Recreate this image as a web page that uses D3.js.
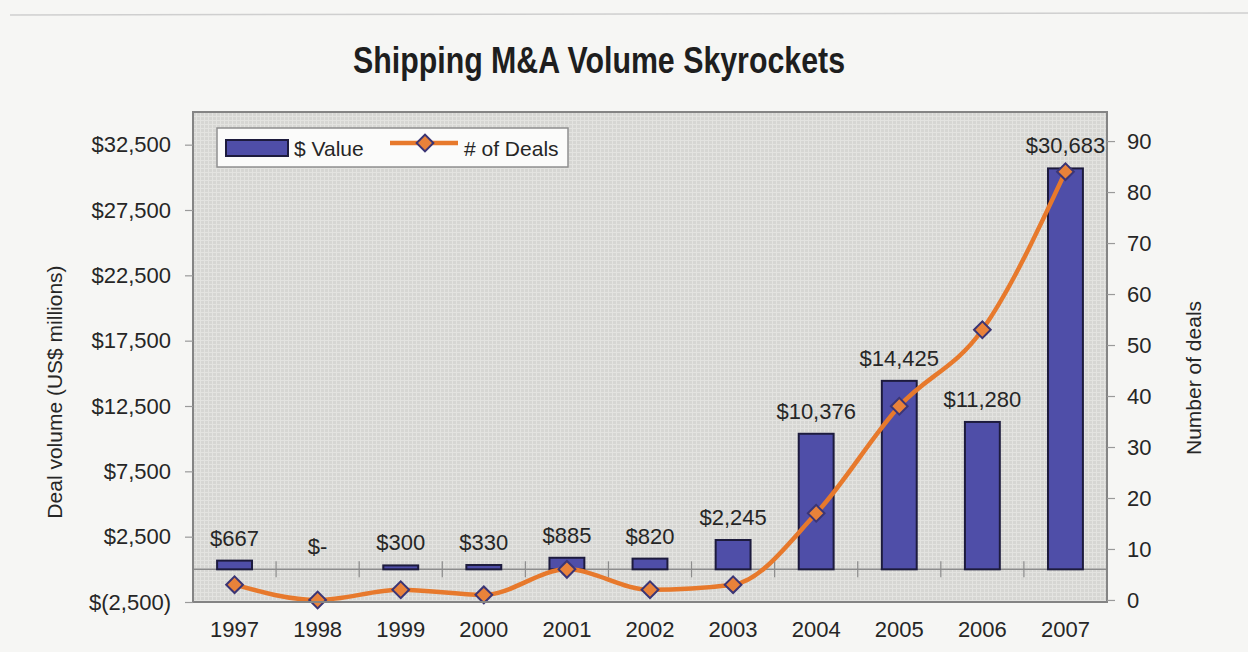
<!DOCTYPE html>
<html>
<head>
<meta charset="utf-8">
<script src="https://cdn.jsdelivr.net/npm/d3@7"></script>
<style>
  html, body { margin: 0; padding: 0; background: #f6f6f4; }
  svg { display: block; }
  text { font-family: "Liberation Sans", Arial, Helvetica, sans-serif; fill: #262626; }
</style>
</head>
<body>
<svg id="chart" width="1248" height="652"></svg>
<script>
// Years shown on the category axis
const years = ["1997", "1998", "1999", "2000", "2001", "2002", "2003", "2004", "2005", "2006", "2007"];
// Deal volume, US$ millions (bars)
const dealValues = [667, 0, 300, 330, 885, 820, 2245, 10376, 14425, 11280, 30683];
// Number of deals (line, right axis)
const dealCounts = [3, 0, 2, 1, 6, 2, 3, 17, 38, 53, 84];
// Axis ticks
const leftTicks = [-2500, 2500, 7500, 12500, 17500, 22500, 27500, 32500];
const rightTicks = [0, 10, 20, 30, 40, 50, 60, 70, 80, 90];

const svg = d3.select("#chart");
const plot = { left: 193, right: 1107, top: 112, bottom: 602 };

const fmtMoney = v => {
  if (v === 0) return "$-";
  const s = d3.format(",")(Math.abs(v));
  return v < 0 ? "$(" + s + ")" : "$" + s;
};

const x = d3.scaleBand().domain(years).range([plot.left, plot.right]).paddingInner(0.58).paddingOuter(0.29);
const xStep = (plot.right - plot.left) / years.length;
const yL = d3.scaleLinear().domain([-2500, 35000]).range([plot.bottom, plot.top]);
const yR = d3.scaleLinear().domain([-0.4, 95.7]).range([plot.bottom, plot.top]);

// faint page edge near the top
svg.append("line").attr("x1", 10).attr("x2", 1248).attr("y1", 15).attr("y2", 13)
  .attr("stroke", "#cfcfcf").attr("stroke-width", 1.5);

// Title (condensed bold)
svg.append("text").attr("x", 599).attr("y", 73).attr("text-anchor", "middle")
  .attr("textLength", 492).attr("lengthAdjust", "spacingAndGlyphs")
  .style("font-weight", "bold").style("font-size", "36px").style("fill", "#1e1e1e")
  .text("Shipping M&A Volume Skyrockets");

// Plot background with a fine screen texture
const defs = svg.append("defs");
const pat = defs.append("pattern").attr("id", "screen").attr("width", 4).attr("height", 4)
  .attr("patternUnits", "userSpaceOnUse");
pat.append("rect").attr("width", 4).attr("height", 4).attr("fill", "#d6d6d3");
pat.append("path").attr("d", "M0,0.5H4M0.5,0V4").attr("stroke", "#e3e3e0").attr("stroke-width", 1);

svg.append("rect").attr("x", plot.left).attr("y", plot.top)
  .attr("width", plot.right - plot.left).attr("height", plot.bottom - plot.top)
  .attr("fill", "url(#screen)");

// Zero baseline of the value axis
svg.append("line").attr("x1", plot.left).attr("x2", plot.right)
  .attr("y1", yL(0)).attr("y2", yL(0)).attr("stroke", "#8c8c8c").attr("stroke-width", 1.5);

// Category tick marks between years, crossing the zero line
svg.append("g").selectAll("line").data(d3.range(1, years.length)).join("line")
  .attr("x1", i => plot.left + i * xStep).attr("x2", i => plot.left + i * xStep)
  .attr("y1", yL(0) - 8).attr("y2", yL(0) + 8)
  .attr("stroke", "#8c8c8c").attr("stroke-width", 1.2);

// Bars
svg.append("g").selectAll("rect").data(years).join("rect")
  .attr("x", d => x(d))
  .attr("width", x.bandwidth())
  .attr("y", (d, i) => yL(Math.max(0, dealValues[i])))
  .attr("height", (d, i) => Math.abs(yL(0) - yL(dealValues[i])))
  .attr("fill", "#4f4ea8").attr("stroke", "#1d1b3d").attr("stroke-width", 2)
  .attr("display", (d, i) => dealValues[i] === 0 ? "none" : null);

// Bar value labels
svg.append("g").selectAll("text").data(years).join("text")
  .attr("x", d => x(d) + x.bandwidth() / 2)
  .attr("y", (d, i) => yL(Math.max(0, dealValues[i])) - 15)
  .attr("text-anchor", "middle").style("font-size", "22px")
  .text((d, i) => fmtMoney(dealValues[i]));

// Number-of-deals line (smoothed, no overshoot)
const line = d3.line()
  .x((d, i) => x(years[i]) + x.bandwidth() / 2)
  .y(d => yR(d))
  .curve(d3.curveMonotoneX);
svg.append("path").datum(dealCounts).attr("d", line)
  .attr("fill", "none").attr("stroke", "#e7792c").attr("stroke-width", 4.5)
  .attr("stroke-linejoin", "round");

const diamond = d3.symbol().type(d3.symbolSquare).size(140);
svg.append("g").selectAll("path").data(dealCounts).join("path")
  .attr("d", diamond)
  .attr("transform", (d, i) => `translate(${x(years[i]) + x.bandwidth() / 2},${yR(d)}) rotate(45)`)
  .attr("fill", "#e9823a").attr("stroke", "#3b3575").attr("stroke-width", 2);

// Plot frame
svg.append("rect").attr("x", plot.left).attr("y", plot.top)
  .attr("width", plot.right - plot.left).attr("height", plot.bottom - plot.top)
  .attr("fill", "none").attr("stroke", "#848484").attr("stroke-width", 2);

// Left value axis
const leftAxis = d3.axisLeft(yL).tickValues(leftTicks).tickFormat(fmtMoney).tickSize(8).tickPadding(14);
const gL = svg.append("g").attr("transform", `translate(${plot.left},0)`).call(leftAxis);
gL.select(".domain").remove();
gL.selectAll(".tick line").attr("stroke", "#9a9a9a").attr("stroke-width", 1.2);
gL.selectAll(".tick text").style("font-size", "22px").style("font-family", null).attr("fill", null);

// Right count axis
const rightAxis = d3.axisRight(yR).tickValues(rightTicks).tickSize(8).tickPadding(12);
const gR = svg.append("g").attr("transform", `translate(${plot.right},0)`).call(rightAxis);
gR.select(".domain").remove();
gR.selectAll(".tick line").attr("stroke", "#9a9a9a").attr("stroke-width", 1.2);
gR.selectAll(".tick text").style("font-size", "22px").style("font-family", null).attr("fill", null);

// Year labels
svg.append("g").selectAll("text").data(years).join("text")
  .attr("x", d => x(d) + x.bandwidth() / 2)
  .attr("y", 637).attr("text-anchor", "middle").style("font-size", "22px")
  .text(d => d);

// Axis titles
svg.append("text").attr("transform", "translate(62,392) rotate(-90)")
  .attr("text-anchor", "middle").style("font-size", "21px")
  .text("Deal volume (US$ millions)");
svg.append("text").attr("transform", "translate(1201,378) rotate(-90)")
  .attr("text-anchor", "middle").style("font-size", "21px")
  .text("Number of deals");

// Legend
const lg = svg.append("g");
lg.append("rect").attr("x", 217).attr("y", 128).attr("width", 351).attr("height", 39)
  .attr("fill", "#fbfbfa").attr("stroke", "#8f8f8f").attr("stroke-width", 1.5);
lg.append("rect").attr("x", 226).attr("y", 140).attr("width", 62).attr("height", 16)
  .attr("fill", "#4f4ea8").attr("stroke", "#1d1b3d").attr("stroke-width", 2);
lg.append("text").attr("x", 294).attr("y", 156).style("font-size", "21px").text("$ Value");
lg.append("line").attr("x1", 390).attr("x2", 458).attr("y1", 143).attr("y2", 143)
  .attr("stroke", "#e7792c").attr("stroke-width", 4.5);
lg.append("path").attr("d", diamond).attr("transform", "translate(425,143) rotate(45)")
  .attr("fill", "#e9823a").attr("stroke", "#3b3575").attr("stroke-width", 2);
lg.append("text").attr("x", 464).attr("y", 156).style("font-size", "21px").text("# of Deals");
</script>
</body>
</html>
